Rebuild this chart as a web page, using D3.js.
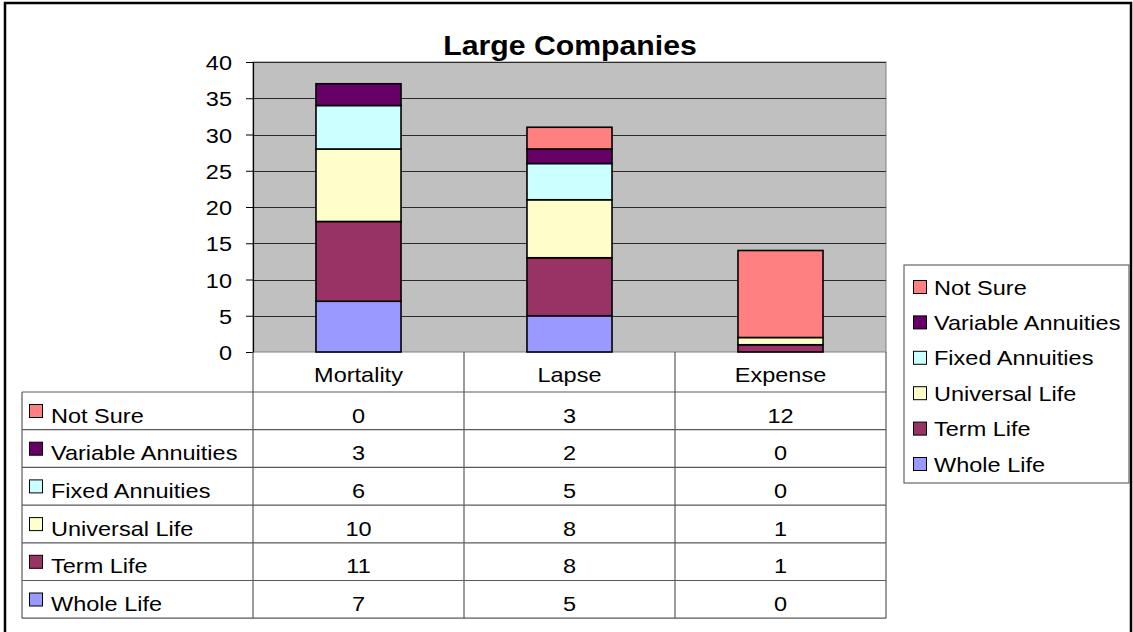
<!DOCTYPE html>
<html>
<head>
<meta charset="utf-8">
<script src="https://cdn.jsdelivr.net/npm/d3@7"></script>
<style>
  html, body { margin: 0; padding: 0; background: #fff; }
  svg { display: block; font-family: Arial, "Liberation Sans", sans-serif; }
</style>
</head>
<body>
<svg id="chart" width="1133" height="632"></svg>
<script>
// Survey counts by assumption type and product line
const categories = ["Mortality", "Lapse", "Expense"];
const seriesNames = ["Whole Life", "Term Life", "Universal Life", "Fixed Annuities", "Variable Annuities", "Not Sure"];
const wholeLife = [7, 5, 0];
const termLife = [11, 8, 1];
const universalLife = [10, 8, 1];
const fixedAnnuities = [6, 5, 0];
const variableAnnuities = [3, 2, 0];
const notSure = [0, 3, 12];
const seriesColors = ["#9999FF", "#993366", "#FFFFCC", "#CCFFFF", "#660066", "#FF8080"];
const yTicks = [0, 5, 10, 15, 20, 25, 30, 35, 40];
const title = "Large Companies";

const seriesValues = [wholeLife, termLife, universalLife, fixedAnnuities, variableAnnuities, notSure];
const rows = categories.map((c, i) => {
  const r = { category: c };
  seriesNames.forEach((s, k) => { r[s] = seriesValues[k][i]; });
  return r;
});

const svg = d3.select("#chart");
const SX = 1.12;      // horizontal text stretch
const FS = 21;        // base font size

function label(parent, x, y, str, anchor, size, weight) {
  return parent.append("text")
    .attr("transform", `translate(${x},${y}) scale(${SX},1)`)
    .attr("text-anchor", anchor || "start")
    .attr("font-size", size || FS)
    .attr("font-weight", weight || "normal")
    .attr("fill", "#000")
    .text(str);
}

// outer frame
svg.append("rect")
  .attr("x", 5).attr("y", 3).attr("width", 1126).attr("height", 632)
  .attr("fill", "#fff").attr("stroke", "#000").attr("stroke-width", 2.5);

// plot geometry
const plot = { left: 253, right: 886, top: 62, bottom: 352 };

const x = d3.scaleBand()
  .domain(categories)
  .range([plot.left, plot.right])
  .paddingInner(0.597)
  .paddingOuter(0.2985);

const y = d3.scaleLinear()
  .domain([0, 40])
  .range([plot.bottom, plot.top]);

// plot background
svg.append("rect")
  .attr("x", plot.left).attr("y", plot.top)
  .attr("width", plot.right - plot.left).attr("height", plot.bottom - plot.top)
  .attr("fill", "#C0C0C0").attr("stroke", "#808080").attr("stroke-width", 1);

// gridlines
svg.append("g")
  .selectAll("line")
  .data(yTicks.filter(t => t > 0))
  .join("line")
  .attr("x1", plot.left).attr("x2", plot.right)
  .attr("y1", d => Math.round(y(d)) + 0.5).attr("y2", d => Math.round(y(d)) + 0.5)
  .attr("stroke", "#2a2a2a").attr("stroke-width", 1);

// stacked bars
const stack = d3.stack().keys(seriesNames);
const stacked = stack(rows);

svg.append("g")
  .selectAll("g")
  .data(stacked)
  .join("g")
  .attr("fill", (d, i) => seriesColors[i])
  .selectAll("rect")
  .data(d => d.filter(p => p[1] - p[0] > 0))
  .join("rect")
  .attr("x", d => x(d.data.category))
  .attr("width", x.bandwidth())
  .attr("y", d => y(d[1]))
  .attr("height", d => y(d[0]) - y(d[1]))
  .attr("stroke", "#000")
  .attr("stroke-width", 1.6);

// y axis
const yAxis = svg.append("g")
  .attr("transform", `translate(${plot.left},0)`)
  .call(d3.axisLeft(y).tickValues(yTicks).tickSize(7).tickSizeOuter(0));
yAxis.select(".domain").attr("stroke", "#000").attr("stroke-width", 1.2);
yAxis.selectAll(".tick line").attr("stroke", "#000");
yAxis.selectAll(".tick text")
  .attr("x", null).attr("dy", null)
  .attr("font-size", FS)
  .attr("font-family", "Arial, 'Liberation Sans', sans-serif")
  .attr("fill", "#000")
  .attr("text-anchor", "end")
  .attr("transform", `translate(-21,7.5) scale(${SX},1)`);

// title
label(svg, 570, 55, title, "middle", 27, "bold");

// data table
const headerTop = plot.bottom, headerBottom = 392, rowH = 37.7;
const tableLeft = 22;
const tableRows = seriesNames.slice().reverse();
const rowTop = i => headerBottom + i * rowH;
const tableBottom = rowTop(tableRows.length);
const colEdges = [plot.left].concat(categories.map(c => x(c) - x.step() * x.paddingInner() / 2 + x.step()));
const lineCol = "#5a5a5a";

const table = svg.append("g");
// horizontal lines
d3.range(tableRows.length + 1).forEach(i => {
  table.append("line")
    .attr("x1", tableLeft).attr("x2", plot.right)
    .attr("y1", rowTop(i)).attr("y2", rowTop(i))
    .attr("stroke", lineCol).attr("stroke-width", 1.2);
});
// vertical lines
table.append("line")
  .attr("x1", tableLeft).attr("x2", tableLeft)
  .attr("y1", headerBottom).attr("y2", tableBottom)
  .attr("stroke", lineCol).attr("stroke-width", 1.2);
colEdges.forEach(cx => {
  table.append("line")
    .attr("x1", cx).attr("x2", cx)
    .attr("y1", headerTop).attr("y2", tableBottom)
    .attr("stroke", lineCol).attr("stroke-width", 1.2);
});
// header
categories.forEach(c => {
  label(table, x(c) + x.bandwidth() / 2, headerTop + 30, c, "middle");
});
// rows
tableRows.forEach((s, i) => {
  const k = seriesNames.indexOf(s);
  const top = rowTop(i);
  table.append("rect")
    .attr("x", 29.5).attr("y", top + 12.5).attr("width", 13).attr("height", 13)
    .attr("fill", seriesColors[k]).attr("stroke", "#000").attr("stroke-width", 1);
  label(table, 51, top + 30.5, s, "start");
  categories.forEach((c, j) => {
    label(table, x(c) + x.bandwidth() / 2, top + 30.5, String(seriesValues[k][j]), "middle");
  });
});

// legend
const legend = svg.append("g");
legend.append("rect")
  .attr("x", 904).attr("y", 265).attr("width", 225).attr("height", 218)
  .attr("fill", "#fff").attr("stroke", "#666").attr("stroke-width", 1.2);
tableRows.forEach((s, i) => {
  const k = seriesNames.indexOf(s);
  const cy = 287 + i * 35.4;
  legend.append("rect")
    .attr("x", 913.5).attr("y", cy - 6.5).attr("width", 13).attr("height", 13)
    .attr("fill", seriesColors[k]).attr("stroke", "#000").attr("stroke-width", 1);
  label(legend, 934, cy + 7.5, s, "start");
});
</script>
</body>
</html>
